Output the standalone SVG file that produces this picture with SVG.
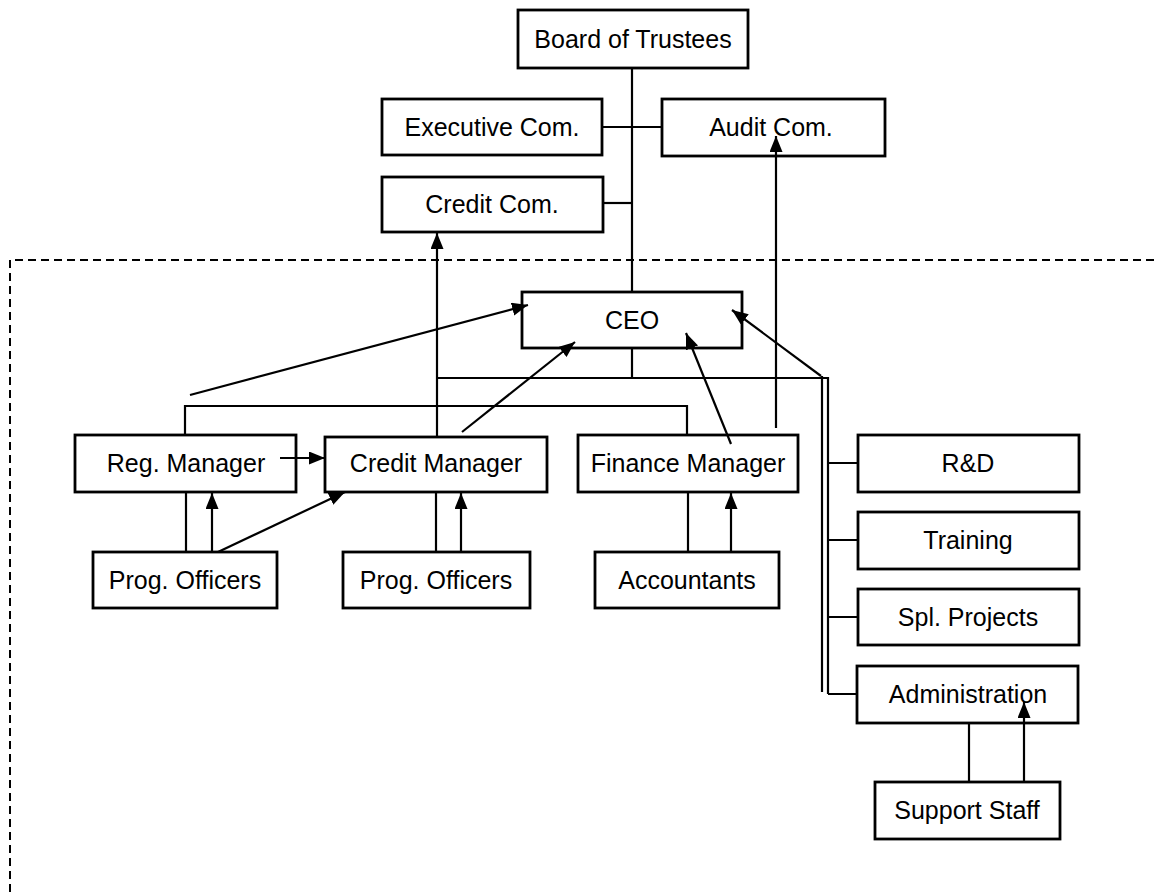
<svg xmlns="http://www.w3.org/2000/svg" width="1154" height="893" viewBox="0 0 1154 893">
<style>
.box{fill:#fff;stroke:#000;stroke-width:2.8}
.lbl{font-family:"Liberation Sans",Arial,sans-serif;font-size:25px;fill:#000;text-anchor:middle}
.ln{fill:none;stroke:#000;stroke-width:2.2}
.ar{fill:none;stroke:#000;stroke-width:2.2;marker-end:url(#ah)}
.dash{fill:none;stroke:#000;stroke-width:2;stroke-dasharray:8 5}
</style>
<defs>
<marker id="ah" markerUnits="userSpaceOnUse" markerWidth="17" markerHeight="14" refX="16" refY="6.5" orient="auto">
<path d="M0,0 L16,6.5 L0,13 z" fill="#000"/>
</marker>
</defs>
<rect width="1154" height="893" fill="#fff"/>
<g id="boundary">
<path class="dash" d="M1154,260 H10 V893"/>
</g>
<g id="board"><rect class="box" x="518" y="10" width="230" height="58"/><text class="lbl" x="633" y="48">Board of Trustees</text></g>
<g id="exec"><rect class="box" x="382" y="99" width="220" height="56"/><text class="lbl" x="492" y="136">Executive Com.</text></g>
<g id="audit"><rect class="box" x="662" y="99" width="223" height="57"/><text class="lbl" x="771" y="136">Audit Com.</text></g>
<g id="creditcom"><rect class="box" x="382" y="177" width="221" height="55"/><text class="lbl" x="492" y="213">Credit Com.</text></g>
<g id="ceo"><rect class="box" x="522" y="292" width="220" height="56"/><text class="lbl" x="632" y="329">CEO</text></g>
<g id="regmgr"><rect class="box" x="75" y="435" width="221" height="57"/><text class="lbl" x="186" y="472">Reg. Manager</text></g>
<g id="creditmgr"><rect class="box" x="325" y="437" width="222" height="55"/><text class="lbl" x="436" y="472">Credit Manager</text></g>
<g id="finmgr"><rect class="box" x="578" y="435" width="220" height="57"/><text class="lbl" x="688" y="472">Finance Manager</text></g>
<g id="rnd"><rect class="box" x="858" y="435" width="221" height="57"/><text class="lbl" x="968" y="472">R&amp;D</text></g>
<g id="training"><rect class="box" x="858" y="512" width="221" height="57"/><text class="lbl" x="968" y="549">Training</text></g>
<g id="splprojects"><rect class="box" x="858" y="589" width="221" height="56"/><text class="lbl" x="968" y="626">Spl. Projects</text></g>
<g id="admin"><rect class="box" x="857" y="666" width="221" height="57"/><text class="lbl" x="968" y="703">Administration</text></g>
<g id="support"><rect class="box" x="875" y="782" width="185" height="57"/><text class="lbl" x="967" y="819">Support Staff</text></g>
<g id="progoff1"><rect class="box" x="93" y="552" width="184" height="56"/><text class="lbl" x="185" y="589">Prog. Officers</text></g>
<g id="progoff2"><rect class="box" x="343" y="552" width="187" height="56"/><text class="lbl" x="436" y="589">Prog. Officers</text></g>
<g id="accountants"><rect class="box" x="595" y="552" width="184" height="56"/><text class="lbl" x="687" y="589">Accountants</text></g>
<g id="connectors">
<path class="ln" d="M632,68 V292"/>
<path class="ln" d="M602,127 H662"/>
<path class="ln" d="M603,203 H632"/>
<path class="ln" d="M632,348 V378"/>
<path class="ln" d="M437,378 H828 V694"/>
<path class="ln" d="M822,376 V692"/>
<path class="ln" d="M828,463 H858 M828,540 H858 M828,617 H858 M828,694 H857"/>
<path class="ar" d="M437,437 V233"/>
<path class="ln" d="M185,435 V406 H687 V435"/>
<path class="ar" d="M190,395 L528,305"/>
<path class="ar" d="M280,458 H325"/>
<path class="ln" d="M186,492 V552"/>
<path class="ar" d="M212,552 V493"/>
<path class="ar" d="M218,552 L345,492"/>
<path class="ln" d="M436,492 V552"/>
<path class="ar" d="M461,552 V493"/>
<path class="ar" d="M462,432 L575,342"/>
<path class="ar" d="M731,444 L686,333"/>
<path class="ar" d="M821,376 L732,310"/>
<path class="ar" d="M776,428 V136"/>
<path class="ln" d="M688,492 V552"/>
<path class="ar" d="M731,552 V493"/>
<path class="ln" d="M969,723 V782"/>
<path class="ar" d="M1024,782 V702"/>
</g>
</svg>
